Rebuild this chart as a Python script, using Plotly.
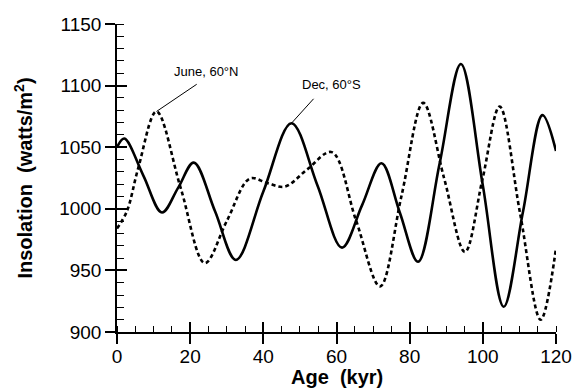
import plotly.graph_objects as go

# Dec, 60°S (solid)
dec_age = [0, 2, 7.2, 12.3, 16.7, 21, 26.8, 32.5, 40, 47.7, 54.8, 61.5, 67, 72.3,
           77.3, 82.3, 88.2, 94, 100, 105.7, 111, 116.3, 120]
dec_ins = [1050, 1057, 1027, 997, 1017, 1037.5, 998, 958.5, 1014, 1069.5, 1019, 968.5,
           1003, 1037, 997, 957, 1037, 1117.5, 1019, 920.5, 998, 1076, 1047]

# June, 60°N (dashed)
jun_age = [0, 2.7, 5.8, 10.8, 17.4, 24, 30, 36.3, 41, 45.9, 52, 58.7, 65.3, 71.9,
           77.8, 83.7, 89.4, 95.1, 99.9, 104.6, 110.2, 115.8, 120]
jun_ins = [984, 998, 1033, 1079, 1017, 956, 990, 1024.5, 1021, 1018, 1032, 1046, 991,
           937, 1011, 1086, 1025, 965, 1024, 1083, 996, 910, 968]

x_ticks = [0, 20, 40, 60, 80, 100, 120]
y_ticks = [900, 950, 1000, 1050, 1100, 1150]

# label placement (data units)
june_label = dict(text="June, 60°N", x=24.2, y=1111.3, tip_x=10.8, tip_y=1079, end_x=22.2, end_y=1101.9)
dec_label = dict(text="Dec, 60°S", x=58.7, y=1101, tip_x=47.7, tip_y=1069.5, end_x=54.1, end_y=1090.5)

FONT = "Liberation Sans, Arial, sans-serif"

fig = go.Figure()
fig.add_trace(go.Scatter(x=dec_age, y=dec_ins, mode="lines",
                         line=dict(color="black", width=2.6, shape="spline", smoothing=1.0),
                         showlegend=False, hoverinfo="skip"))
fig.add_trace(go.Scatter(x=jun_age, y=jun_ins, mode="lines", xaxis="x2", yaxis="y2",
                         line=dict(color="black", width=2.6, dash="4px,3px", shape="spline", smoothing=1.0),
                         showlegend=False, hoverinfo="skip"))

axis_common = dict(showgrid=False, zeroline=False, showline=True, linecolor="black",
                   linewidth=1.5, tickcolor="black", tickwidth=1.5, ticklen=10, automargin=False)

fig.update_layout(
    width=575, height=389,
    margin=dict(l=117, r=19, t=24, b=57),
    paper_bgcolor="white", plot_bgcolor="white",
    font=dict(family=FONT, color="black"),
    xaxis=dict(range=[0, 120], tickvals=x_ticks, ticks="outside",
               tickfont=dict(size=19, family=FONT), ticklabelstandoff=-4,
               minor=dict(ticks="inside", dtick=5, ticklen=6, tickcolor="black", tickwidth=1.2),
               **axis_common),
    yaxis=dict(range=[900, 1150], tickvals=y_ticks, ticks="outside",
               tickfont=dict(size=19, family=FONT),
               minor=dict(ticks="inside", dtick=10, ticklen=7, tickcolor="black", tickwidth=1.2),
               title=dict(text="<b>Insolation\u00a0\u00a0(watts/m<sup>2</sup>)</b>", font=dict(size=20, family=FONT), standoff=21),
               **axis_common),
    xaxis2=dict(range=[0, 120], tickvals=x_ticks, ticks="inside", overlaying="x", anchor="y2",
                side="bottom", showticklabels=False, **axis_common),
    yaxis2=dict(range=[900, 1150], tickvals=y_ticks, ticks="inside", overlaying="y", anchor="x2",
                side="left", showticklabels=False, **axis_common),
)

fig.add_annotation(x=0.5, y=-0.145, xref="paper", yref="paper", yanchor="middle",
                   text="<b>Age\u00a0\u00a0(kyr)</b>", showarrow=False, font=dict(size=20, family=FONT))

for lab in (june_label, dec_label):
    fig.add_annotation(x=lab["tip_x"], y=lab["tip_y"], ax=lab["end_x"], ay=lab["end_y"],
                       axref="x", ayref="y", text="", showarrow=True, arrowhead=0,
                       arrowwidth=1, arrowcolor="black")
    fig.add_annotation(x=lab["x"], y=lab["y"], text=lab["text"], showarrow=False,
                       font=dict(size=13, family=FONT))

fig.write_html("out.html", config={"displayModeBar": False},
               post_script="document.body.style.margin='0';document.body.style.overflow='hidden';")
